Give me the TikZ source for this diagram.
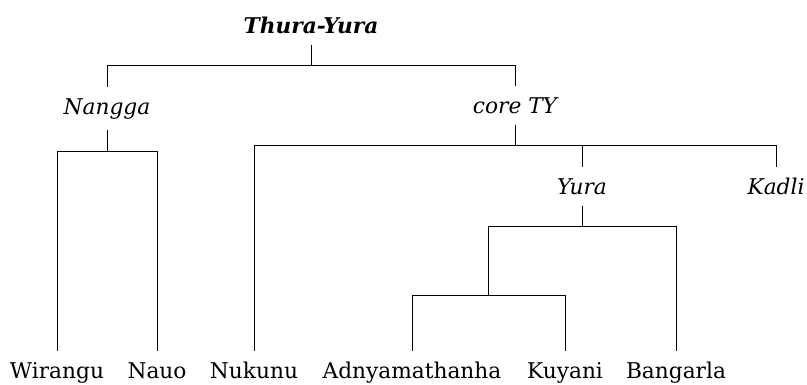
\documentclass[tikz,border=0pt]{standalone}
\usepackage{fontspec}
\setmainfont{DejaVu Serif}
\begin{document}
\begin{tikzpicture}[x=1pt,y=-1pt,
  lbl/.style={anchor=base,inner xsep=0pt,inner ysep=11pt,text height=16pt,
    font=\fontsize{21.7}{26}\selectfont},
  inl/.style={lbl,font=\fontsize{21.7}{26}\selectfont\itshape},
  branch/.style={line width=0.9pt,black}]
\useasboundingbox (0,0) rectangle (807,384);
% labels
\node[inl,font=\fontsize{21.7}{26}\selectfont\bfseries\itshape] (root) at (311,33) {Thura-Yura};
\node[inl] (nangga) at (107,114) {Nangga};
\node[inl] (core) at (515,113) {core TY};
\node[inl] (yura) at (582,194) {Yura};
\node[inl] (kadli) at (776,194) {Kadli};
\coordinate (j) at (488,274);
\node[lbl] (wir) at (57,378) {Wirangu};
\node[lbl] (nau) at (157,378) {Nauo};
\node[lbl] (nuk) at (254,378) {Nukunu};
\node[lbl] (adn) at (412,378) {Adnyamathanha};
\node[lbl] (kuy) at (565,378) {Kuyani};
\node[lbl] (ban) at (676,378) {Bangarla};
% branches
\draw[branch] (root.south) -- ++(0,21) -| (nangga.north);
\draw[branch] (root.south) -- ++(0,21) -| (core.north);
\draw[branch] (nangga.south) -- ++(0,21) -| (wir.north);
\draw[branch] (nangga.south) -- ++(0,21) -| (nau.north);
\draw[branch] (core.south) -- ++(0,21) -| (nuk.north);
\draw[branch] (core.south) -- ++(0,21) -| (yura.north);
\draw[branch] (core.south) -- ++(0,21) -| (kadli.north);
\draw[branch] (yura.south) -- ++(0,21) -| (j);
\draw[branch] (yura.south) -- ++(0,21) -| (ban.north);
\draw[branch] (j) -- ++(0,21) -| (adn.north);
\draw[branch] (j) -- ++(0,21) -| (kuy.north);
\end{tikzpicture}
\end{document}
